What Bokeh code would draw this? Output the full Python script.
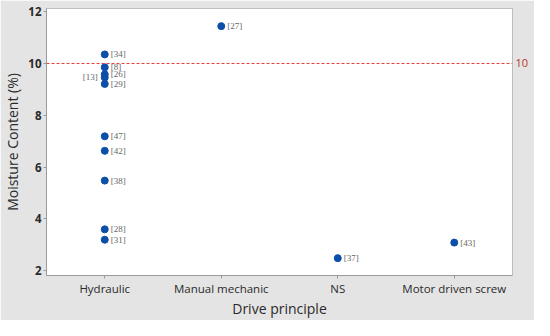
from bokeh.plotting import figure
from bokeh.models import ColumnDataSource, LabelSet, Span, LinearAxis, FixedTicker, Range1d
from bokeh.embed import file_html
from bokeh.resources import INLINE

categories = ["Hydraulic", "Manual mechanic", "NS", "Motor driven screw"]
drive = ["Hydraulic"] * 10 + ["Manual mechanic", "NS", "Motor driven screw"]
moisture = [10.35, 9.85, 9.58, 9.46, 9.21, 7.19, 6.63, 5.48, 3.60, 3.20, 11.44, 2.49, 3.09]
refs = ["[34]", "[8]", "[26]", "[13]", "[29]", "[47]", "[42]", "[38]", "[28]", "[31]", "[27]", "[37]", "[43]"]
left_labeled = ["[13]"]
y_ticks = [2, 4, 6, 8, 10, 12]
limit = 10

FONT = "Open Sans"
BG = "#e4e4e4"

p = figure(x_range=categories, y_range=Range1d(1.82, 12.12),
           width=534, height=320, output_backend="svg", toolbar_location=None,
           min_border_left=36, min_border_right=22, min_border_top=8, min_border_bottom=30)
p.border_fill_color = BG
p.background_fill_color = "white"
p.outline_line_color = "#bdbdbd"
p.grid.visible = False

right = [i for i, r in enumerate(refs) if r not in left_labeled]
left = [i for i, r in enumerate(refs) if r in left_labeled]
src_r = ColumnDataSource(dict(x=[drive[i] for i in right], y=[moisture[i] for i in right], t=[refs[i] for i in right]))
src_l = ColumnDataSource(dict(x=[drive[i] for i in left], y=[moisture[i] for i in left], t=[refs[i] for i in left]))
src_all = ColumnDataSource(dict(x=drive, y=moisture))

p.scatter("x", "y", source=src_all, size=7, color="#0b4fa8")

p.add_layout(LabelSet(x="x", y="y", text="t", source=src_r, x_offset=6, y_offset=0,
                      text_font=FONT, text_font_size="9px", text_color="#666666",
                      text_baseline="middle"))
p.add_layout(LabelSet(x="x", y="y", text="t", source=src_l, x_offset=-7, y_offset=0,
                      text_font=FONT, text_font_size="9px", text_color="#666666",
                      text_baseline="middle", text_align="right"))

p.add_layout(Span(location=limit, dimension="width", line_color="#e23c3c",
                  line_dash="3 2", line_width=1))

for ax in (p.xaxis[0], p.yaxis[0]):
    ax.axis_line_color = "#9a9a9a"
    ax.major_tick_line_color = "#9a9a9a"
    ax.minor_tick_line_color = None
    ax.major_tick_out = 3
    ax.major_tick_in = 0
    ax.major_label_text_font = FONT
    ax.major_label_text_color = "#2a2a2a"
    ax.axis_label_text_font = FONT
    ax.axis_label_text_font_style = "normal"
    ax.axis_label_text_color = "#2a2a2a"
    ax.axis_label_text_font_size = "14px"

p.yaxis.ticker = FixedTicker(ticks=y_ticks)
p.yaxis.major_label_text_font_size = "11.5px"
p.yaxis.major_label_text_font_style = "bold"
p.yaxis.axis_label = "Moisture Content (%)"
p.yaxis.axis_label_standoff = 3
p.yaxis.major_label_standoff = 2
p.xaxis.major_label_text_font_size = "11.5px"
p.xaxis.axis_label = "Drive principle"
p.xaxis.axis_label_standoff = 0
p.xaxis.major_label_standoff = 2

ra = LinearAxis(ticker=FixedTicker(ticks=[limit]))
ra.axis_line_color = None
ra.major_tick_line_color = None
ra.minor_tick_line_color = None
ra.major_tick_out = 0
ra.major_label_text_color = "#b83232"
ra.major_label_text_font = FONT
ra.major_label_text_font_size = "11px"
ra.major_label_standoff = 3
p.add_layout(ra, "right")

open("out.html", "w").write(file_html(p, INLINE))
